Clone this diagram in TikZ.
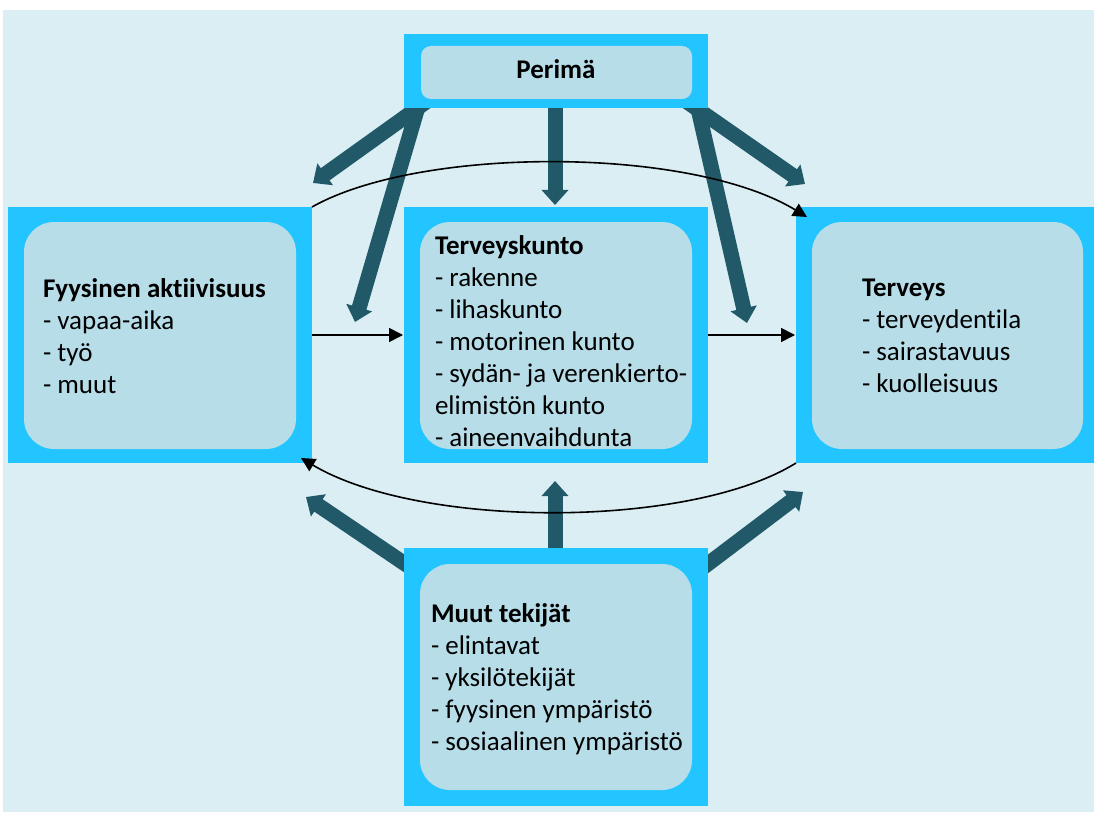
\documentclass[tikz,border=0pt]{standalone}
\usepackage{fontspec}
\setmainfont{Carlito}[Ligatures=NoCommon]
\usetikzlibrary{arrows.meta,calc}
\definecolor{bgc}{RGB}{219,238,244}
\definecolor{outc}{RGB}{34,197,255}
\definecolor{inc}{RGB}{183,221,232}
\definecolor{darkarr}{RGB}{33,89,104}
\tikzset{
  outerbox/.style={rectangle,fill=outc,draw=none,inner sep=0pt,outer sep=0pt},
  txt/.style={align=left,inner sep=0pt,outer sep=0pt,text=black,font=\fontsize{27}{32}\selectfont},
  fatarrow/.style={line width=15pt,draw=darkarr,-{Triangle[width=26pt,length=15pt]}},
  thinarrow/.style={line width=1.6pt,draw=black,-{Triangle[width=14pt,length=14pt]}},
}
\begin{document}
\begin{tikzpicture}[x=1pt,y=-1pt]
\useasboundingbox (0,0) rectangle (1094,821);
\fill[white] (0,0) rectangle (1094,821);
\fill[bgc] (3,10) rectangle (1094,812);

% coordinates for the free ends of thick arrows
\coordinate (tl0) at (433,97);   \coordinate (tl1) at (313,183);
\coordinate (tr0) at (680,97);   \coordinate (tr1) at (805,184);
\coordinate (tc0) at (555,100);  \coordinate (tc1) at (555,205);
\coordinate (ll0) at (420,100);  \coordinate (ll1) at (355,322);
\coordinate (rl0) at (696,100);  \coordinate (rl1) at (747,323);
\coordinate (bl0) at (420,574);  \coordinate (bl1) at (306,497);
\coordinate (bc0) at (555,556);  \coordinate (bc1) at (555,481);
\coordinate (br0) at (692,576);  \coordinate (br1) at (803,492);

% thick arrows (behind boxes)
\draw[fatarrow] (tl0) -- (tl1);
\draw[fatarrow] (tr0) -- (tr1);
\draw[fatarrow] (tc0) -- (tc1);
\draw[fatarrow] (ll0) -- (ll1);
\draw[fatarrow] (rl0) -- (rl1);
\draw[fatarrow] (bl0) -- (bl1);
\draw[fatarrow] (bc0) -- (bc1);
\draw[fatarrow] (br0) -- (br1);

% boxes
\node[outerbox,minimum width=304pt,minimum height=74pt] (per) at (556,71) {};
\node[outerbox,minimum width=304pt,minimum height=256pt] (fa) at (160,335) {};
\node[outerbox,minimum width=304pt,minimum height=256pt] (tk) at (556,335) {};
\node[outerbox,minimum width=298pt,minimum height=256pt] (te) at (945,335) {};
\node[outerbox,minimum width=304pt,minimum height=258pt] (mt) at (556,677) {};

\fill[inc,rounded corners=10pt] ($(per.north west)+(17,12)$) rectangle ($(per.south east)+(-16,-9)$);
\fill[inc,rounded corners=30pt] ($(fa.north west)+(16,15)$) rectangle ($(fa.south east)+(-16,-14)$);
\fill[inc,rounded corners=30pt] ($(tk.north west)+(16,15)$) rectangle ($(tk.south east)+(-16,-14)$);
\fill[inc,rounded corners=30pt] ($(te.north west)+(16,15)$) rectangle ($(te.south east)+(-11,-14)$);
\fill[inc,rounded corners=30pt] ($(mt.north west)+(16,16)$) rectangle ($(mt.south east)+(-16,-16)$);

% texts (base anchor = baseline of last line)
\node[txt,anchor=base] (pert) at (556,79) {\textbf{Perimä}};
\node[txt,anchor=base west] (fat) at (43,393.5) {\textbf{Fyysinen aktiivisuus}\\- vapaa-aika\\- työ\\- muut};
\node[txt,anchor=base west] (tkt) at (435,446) {\textbf{Terveyskunto}\\- rakenne\\- lihaskunto\\- motorinen kunto\\- sydän- ja verenkierto-\\elimistön kunto\\- aineenvaihdunta};
\node[txt,anchor=base west] (tet) at (862,392) {\textbf{Terveys}\\- terveydentila\\- sairastavuus\\- kuolleisuus};
\node[txt,anchor=base west] (mtt) at (431,750) {\textbf{Muut tekijät}\\- elintavat\\- yksilötekijät\\- fyysinen ympäristö\\- sosiaalinen ympäristö};

% thin arrows
\draw[thinarrow] (fa.east) -- ($(tk.west)+(-1,0)$);
\draw[thinarrow] (tk.east) -- ($(te.west)+(-1,0)$);
\draw[thinarrow] (fa.north east) .. controls (420,146) and (690,146) .. ($(te.north west)+(11,10)$);
\draw[thinarrow] (te.south west) .. controls (690,529) and (420,529) .. ($(fa.south east)+(-11,-5)$);
\end{tikzpicture}
\end{document}
